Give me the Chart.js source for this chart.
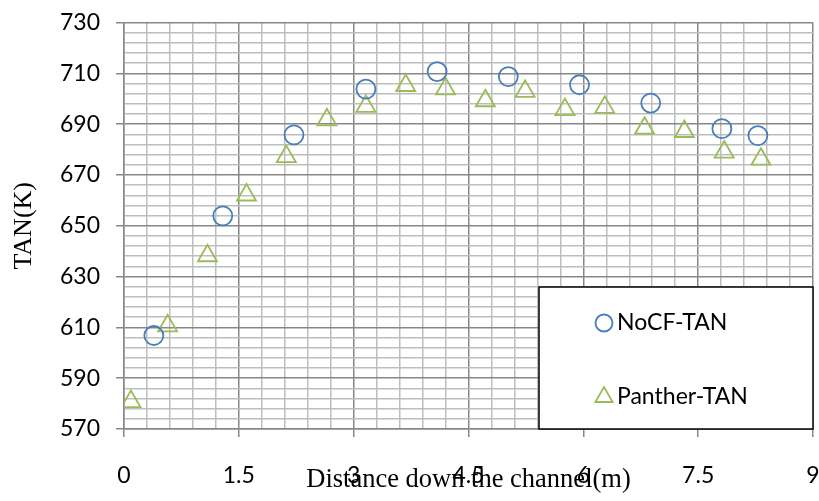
<!DOCTYPE html>
<html>
<head>
<meta charset="utf-8">
<script src="https://cdn.jsdelivr.net/npm/chart.js@4.4.1/dist/chart.umd.min.js"></script>
<style>
  html, body { margin: 0; padding: 0; background: #fff; }
  #wrap { width: 819px; height: 501px; }
</style>
</head>
<body>
<div id="wrap"><canvas id="tanChart" width="819" height="501"></canvas></div>
<script>
// datos
const nocfX   = [0.39, 1.29, 2.22, 3.16, 4.09, 5.02, 5.95, 6.88, 7.81, 8.28]
const nocfTan = [606.8, 653.9, 685.8, 703.8, 710.7, 708.7, 705.5, 698.3, 688.2, 685.5]

const pantherX   = [0.09, 0.57, 1.09, 1.60, 2.12, 2.65, 3.16, 3.68, 4.20, 4.72, 5.24, 5.76, 6.28, 6.80, 7.32, 7.84, 8.32]
const pantherTan = [580.8, 610.6, 638.2, 662.1, 677.2, 691.7, 697.0, 705.2, 703.9, 699.2, 702.9, 695.7, 696.6, 688.4, 687.1, 679.0, 676.2]

const xTickLabels = [0, 1.5, 3, 4.5, 6, 7.5, 9]
const yTickLabels = [570, 590, 610, 630, 650, 670, 690, 710, 730]

const seriesNames = ['NoCF-TAN', 'Panther-TAN']

const blue = '#4a7ebb'
const green = '#9bbb59'
const majorColor = '#878787'
const minorColor = '#bdbdbd'

function esMayor(valor, lista) {
    return lista.some(v => Math.abs(v - valor) < 1e-6)
}

function toPoints(xs, ys) {
    return xs.map((x, i) => ({ x: x, y: ys[i] }))
}

// sin relleno extra por las etiquetas de los extremos
function sinPadding(scale) {
    scale.paddingLeft = 0
    scale.paddingRight = 0
    scale.paddingTop = 0
    scale.paddingBottom = 0
}

// leyenda dibujada dentro del area, como en excel
const legendBox = {
    id: 'legendBox',
    afterDraw(chart) {
        const ctx = chart.ctx
        const area = chart.chartArea
        const left = 539, top = 287
        const right = area.right, bottom = area.bottom
        ctx.save()
        ctx.fillStyle = '#fff'
        ctx.fillRect(left, top, right - left, bottom - top)
        ctx.strokeStyle = '#000'
        ctx.lineWidth = 1.5
        ctx.strokeRect(left, top, right - left, bottom - top)

        const items = [
            { text: seriesNames[0], style: 'circle', color: blue, y: 323, r: 8.5 },
            { text: seriesNames[1], style: 'triangle', color: green, y: 397, r: 10 }
        ]
        items.forEach(it => {
            ctx.strokeStyle = it.color
            ctx.fillStyle = 'rgba(0,0,0,0)'
            ctx.lineWidth = 1.8
            Chart.helpers.drawPoint(ctx, { pointStyle: it.style, radius: it.r, rotation: 0, borderWidth: 1.8 }, 604, it.y)
            ctx.fillStyle = '#000'
            ctx.font = '23px Lato'
            ctx.textAlign = 'left'
            ctx.textBaseline = 'middle'
            ctx.fillText(it.text, 617, it.y)
        })
        ctx.restore()
    }
}

const canvas = document.getElementById('tanChart')

new Chart(canvas, {
    type: 'scatter',
    data: {
        datasets: [{
            label: seriesNames[0],
            data: toPoints(nocfX, nocfTan),
            pointStyle: 'circle',
            pointRadius: 9.5,
            pointHoverRadius: 9.5,
            borderWidth: 1.8,
            borderColor: blue,
            backgroundColor: 'rgba(0,0,0,0)',
            showLine: false
        }, {
            label: seriesNames[1],
            data: toPoints(pantherX, pantherTan),
            pointStyle: 'triangle',
            pointRadius: 11,
            pointHoverRadius: 11,
            borderWidth: 1.8,
            borderColor: green,
            backgroundColor: 'rgba(0,0,0,0)',
            showLine: false
        }]
    },
    options: {
        responsive: false,
        animation: false,
        layout: {
            autoPadding: false,
            padding: { top: 22.5, right: 6, left: 0, bottom: 0 }
        },
        plugins: {
            legend: { display: false },
            tooltip: { enabled: false }
        },
        scales: {
            x: {
                type: 'linear',
                min: 0,
                max: 9,
                afterFit: function(scale) {
                    scale.height = 72
                    sinPadding(scale)
                },
                ticks: {
                    stepSize: 0.3,
                    padding: 25,
                    color: '#000',
                    font: { family: 'Lato', size: 23 },
                    maxRotation: 0,
                    autoSkip: false,
                    callback: function(value) {
                        return esMayor(value, xTickLabels) ? String(Math.round(value * 10) / 10) : ''
                    }
                },
                grid: {
                    lineWidth: 1.5,
                    tickLength: 8,
                    color: ctx => esMayor(ctx.tick.value, xTickLabels) ? majorColor : minorColor,
                    tickColor: ctx => esMayor(ctx.tick.value, xTickLabels) ? majorColor : 'rgba(0,0,0,0)'
                },
                border: { color: majorColor, width: 1.5 },
                title: {
                    display: true,
                    text: 'Distance down the channel(m)',
                    color: '#000',
                    font: { family: 'Liberation Serif', size: 26.5 },
                    padding: { top: 0, bottom: 5 }
                }
            },
            y: {
                type: 'linear',
                min: 570,
                max: 730,
                afterFit: function(scale) {
                    scale.width = 124
                    sinPadding(scale)
                },
                ticks: {
                    stepSize: 4,
                    padding: 16,
                    color: '#000',
                    font: { family: 'Lato', size: 23 },
                    autoSkip: false,
                    callback: function(value) {
                        return esMayor(value, yTickLabels) ? String(value) : ''
                    }
                },
                grid: {
                    lineWidth: 1.5,
                    tickLength: 8,
                    color: ctx => esMayor(ctx.tick.value, yTickLabels) ? majorColor : minorColor,
                    tickColor: ctx => esMayor(ctx.tick.value, yTickLabels) ? majorColor : 'rgba(0,0,0,0)'
                },
                border: { color: majorColor, width: 1.5 },
                title: {
                    display: true,
                    text: 'TAN(K)',
                    color: '#000',
                    font: { family: 'Liberation Serif', size: 26 },
                    padding: { top: 9, bottom: 0 }
                }
            }
        }
    },
    plugins: [legendBox]
})
</script>
</body>
</html>
